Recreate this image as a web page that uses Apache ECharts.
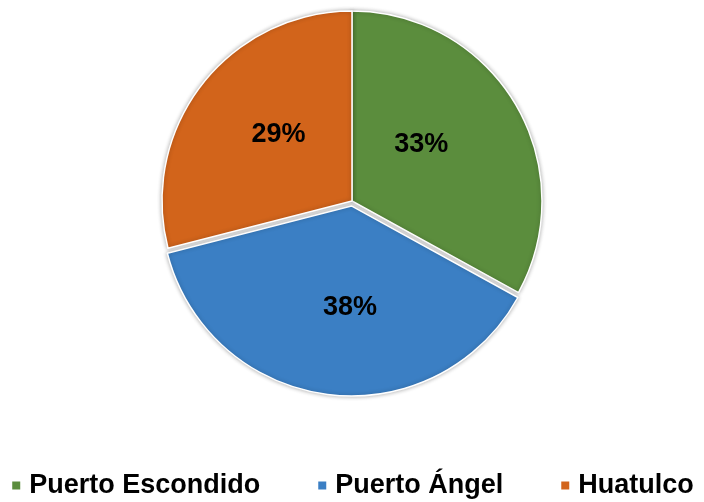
<!DOCTYPE html>
<html>
<head>
<meta charset="utf-8">
<script src="https://cdn.jsdelivr.net/npm/echarts@6/dist/echarts.min.js"></script>
<style>
  html, body { margin: 0; padding: 0; background: #fff; }
  #chart { width: 704px; height: 502px; }
</style>
</head>
<body>
<div id="chart"></div>
<script>
  // datos del gráfico
  const categories = ['Puerto Escondido', 'Puerto Ángel', 'Huatulco'];
  const values = [33, 38, 29];
  const colors = ['#5b8d3d', '#3b7fc4', '#d2641b'];
  const exploded = [false, true, false];
  // ajuste de etiquetas (como en el original de Excel)
  const labelOffsets = [[-15, -7], [11, 4], [4, -6]];

  const chart = echarts.init(document.getElementById('chart'));

  let data = [];
  for (let i = 0; i < categories.length; i++) {
    data.push({
      value: values[i],
      name: categories[i],
      selected: exploded[i],
      itemStyle: {
        color: colors[i]
      },
      label: {
        offset: labelOffsets[i]
      },
      select: {
        label: { offset: labelOffsets[i] }
      }
    });
  }

  const option = {
    backgroundColor: '#fff',
    legend: {
      show: true,
      bottom: -2,
      left: 'center',
      icon: 'rect',
      itemWidth: 10,
      itemHeight: 10,
      itemGap: 56,
      textStyle: {
        fontFamily: 'Liberation Sans, Arial, sans-serif',
        fontWeight: 'bold',
        fontSize: 27,
        color: '#000',
        padding: [0, 0, 0, 3]
      },
      data: categories
    },
    series: [{
      type: 'pie',
      center: [352, 201],
      radius: [0, 190],
      startAngle: 90,
      clockwise: true,
      selectedMode: 'multiple',
      selectedOffset: 5,
      animation: false,
      itemStyle: {
        borderColor: '#fff',
        borderWidth: 1.5,
        shadowBlur: 4,
        shadowColor: 'rgba(0,0,0,0.3)'
      },
      label: {
        show: true,
        position: 'inside',
        formatter: '{c}%',
        fontFamily: 'Liberation Sans, Arial, sans-serif',
        fontWeight: 'bold',
        fontSize: 27,
        color: '#000'
      },
      labelLine: { show: false },
      emphasis: { disabled: true },
      data: data
    }]
  };
  chart.setOption(option);
</script>
</body>
</html>
